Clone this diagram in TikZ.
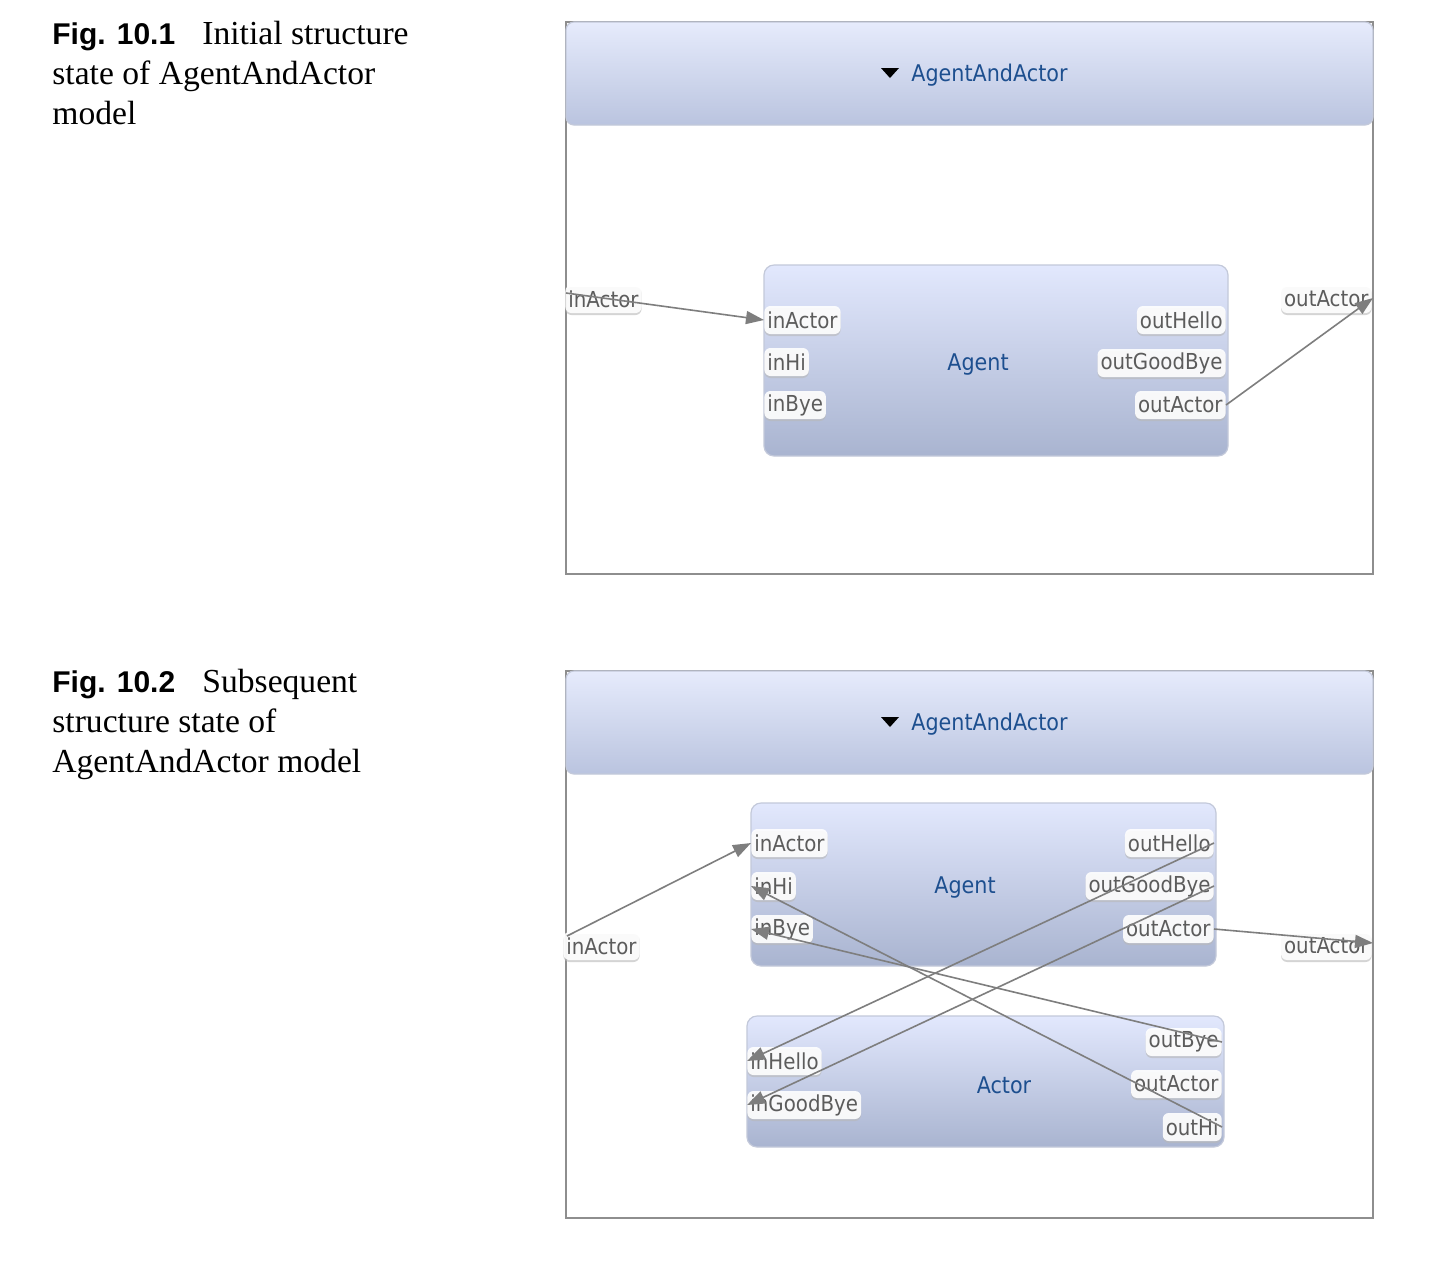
\documentclass[tikz,border=0pt]{standalone}
\usepackage{fontspec}
\setmainfont{Liberation Serif}
\newfontfamily\uifont[FakeStretch=0.9]{DejaVu Sans}
\newfontfamily\figfont{Liberation Sans}
\usetikzlibrary{arrows.meta,fit,shadows}
\definecolor{hdtop}{HTML}{E6EBFC}
\definecolor{hdbot}{HTML}{BAC4DF}
\definecolor{bxtop}{HTML}{E2E8FD}
\definecolor{bxbot}{HTML}{A9B4D0}
\definecolor{bxline}{HTML}{C3C9DA}
\definecolor{frameline}{HTML}{8E8E8E}
\definecolor{titleblue}{HTML}{1D4F8F}
\definecolor{portgray}{HTML}{5C5C5C}
\definecolor{linegray}{HTML}{7E7E7E}
\tikzset{
  capfig/.style={inner sep=0pt, anchor=base west, font=\figfont\bfseries\fontsize{15}{20}\selectfont},
  captxt/.style={inner sep=0pt, anchor=base west, font=\fontsize{16.8}{20}\selectfont},
  frame/.style={draw=frameline, line width=0.8pt, fill=white, inner sep=0pt},
  header/.style={draw=bxline, line width=0.6pt, top color=hdtop, bottom color=hdbot, rounded corners=4pt, inner sep=0pt},
  headtext/.style={anchor=west, inner sep=0pt, text=titleblue, font=\uifont\fontsize{11.5}{14}\selectfont},
  comp/.style={draw=bxline, line width=0.6pt, top color=bxtop, bottom color=bxbot, rounded corners=5pt, inner sep=0pt},
  comptext/.style={inner sep=0pt, text=titleblue, font=\uifont\fontsize{11.5}{14}\selectfont},
  port/.style={fill=white, fill opacity=0.9, text opacity=1, text=portgray, rounded corners=3pt,
    inner xsep=1.5pt, inner ysep=0pt, minimum height=14pt,
    drop shadow={shadow xshift=0pt, shadow yshift=-1pt, fill=black!28, opacity=0.6},
    font=\uifont\fontsize{11}{13}\selectfont},
  conn/.style={draw=linegray, line width=0.8pt},
  arr/.style={conn, -{Triangle[length=9pt,width=6.5pt]}}
}
\begin{document}
\begin{tikzpicture}[x=0.5pt, y=-0.5pt]
\useasboundingbox[fill=white] (0,0) rectangle (1447,1260);

% ---------- captions ----------
\node[capfig] (c1a) at (52,44) {Fig. 10.1};
\node[captxt] (c1b) at (202,44) {Initial structure};
\node[captxt] (c1c) at (52,84) {state of AgentAndActor};
\node[captxt] (c1d) at (52,124) {model};
\node[capfig] (c2a) at (52,692) {Fig. 10.2};
\node[captxt] (c2b) at (202,692) {Subsequent};
\node[captxt] (c2c) at (52,732) {structure state of};
\node[captxt] (c2d) at (52,772) {AgentAndActor model};

% ---------- figure 1 ----------
\node[frame, fit={(566,22) (1373,574)}] (frame1) {};
\node[header, fit={(566,22) (1373,125)}] (head1) {};
\fill[black] (881,68) -- (899,68) -- (890,78) -- cycle;
\node[headtext] (ht1) at (911,75) {AgentAndActor};

\node[comp, fit={(764,265) (1228,456)}] (agent1) {};
\node[comptext] (agent1t) at (978,364) {Agent};
\node[port, anchor=west] (a1inActor) at (764,320) {inActor};
\node[port, anchor=west] (a1inHi) at (764,362) {inHi};
\node[port, anchor=west] (a1inBye) at (764,405) {inBye};
\node[port, anchor=east] (a1outHello) at (1226,320) {outHello};
\node[port, anchor=east] (a1outGoodBye) at (1226,363) {outGoodBye};
\node[port, anchor=east] (a1outActor) at (1226,405) {outActor};

\node[port, anchor=west] (e1in) at (565,299) {inActor};
\node[port, anchor=east] (e1out) at (1372,299) {outActor};
\coordinate (e1inpt) at (566,293);
\coordinate (e1outpt) at (1373,298);
\draw[arr] (e1inpt) -- (a1inActor.west);
\draw[arr] (a1outActor.east) -- (e1outpt);

% ---------- figure 2 ----------
\node[frame, fit={(566,671) (1373,1218)}] (frame2) {};
\node[header, fit={(566,671) (1373,774)}] (head2) {};
\fill[black] (881,717) -- (899,717) -- (890,727) -- cycle;
\node[headtext] (ht2) at (911,724) {AgentAndActor};

\node[comp, fit={(751,803) (1216,966)}] (agent2) {};
\node[comptext] (agent2t) at (965,887) {Agent};
\node[port, anchor=west] (a2inActor) at (751,843) {inActor};
\node[port, anchor=west] (a2inHi) at (751,886) {inHi};
\node[port, anchor=west] (a2inBye) at (751,929) {inBye};
\node[port, anchor=east] (a2outHello) at (1214,843) {outHello};
\node[port, anchor=east] (a2outGoodBye) at (1214,886) {outGoodBye};
\node[port, anchor=east] (a2outActor) at (1214,929) {outActor};

\node[comp, fit={(747,1016) (1224,1147)}] (actor2) {};
\node[comptext] (actor2t) at (1004,1085) {Actor};
\node[port, anchor=west] (b2inHello) at (747,1061) {inHello};
\node[port, anchor=west] (b2inGoodBye) at (747,1105) {inGoodBye};
\node[port, anchor=east] (b2outBye) at (1222,1042) {outBye};
\node[port, anchor=east] (b2outActor) at (1222,1084) {outActor};
\node[port, anchor=east] (b2outHi) at (1222,1127) {outHi};

\node[port, anchor=west] (e2in) at (563,946) {inActor};
\node[port, anchor=east] (e2out) at (1372,946) {outActor};
\coordinate (e2inpt) at (567,936);
\coordinate (e2outpt) at (1373,943);

\draw[arr] (e2inpt) -- (a2inActor.west);
\draw[arr] (a2outActor.east) -- (e2outpt);
\draw[arr] (b2outHi.east) -- (a2inHi.west);
\draw[arr] (b2outBye.east) -- (a2inBye.west);
\draw[arr] (a2outHello.east) -- (b2inHello.west);
\draw[arr] (a2outGoodBye.east) -- (b2inGoodBye.west);
\end{tikzpicture}
\end{document}
